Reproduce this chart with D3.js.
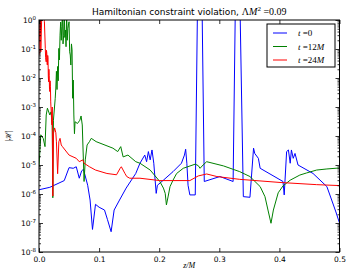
<!DOCTYPE html>
<html>
<head>
<meta charset="utf-8">
<script src="https://cdn.jsdelivr.net/npm/d3@7"></script>
<style>
  body { margin: 0; background: #fff; }
  text { font-family: "DejaVu Sans", sans-serif; }
  .math { font-family: "Liberation Serif", serif; font-style: italic; }
  .rm { font-style: normal; }
</style>
</head>
<body>
<div id="vis"></div>
<script>
// data: z/M positions and |H| values per time slice
const zBlue = [0.000, 0.018, 0.042, 0.050, 0.057, 0.062, 0.067, 0.071, 0.074, 0.081, 0.085, 0.089, 0.094, 0.100,
  0.109, 0.114, 0.120, 0.125, 0.134, 0.145, 0.161, 0.168, 0.176, 0.179, 0.182, 0.185, 0.188, 0.191, 0.195, 0.197,
  0.207, 0.223, 0.237, 0.242, 0.244, 0.246, 0.248, 0.251, 0.260, 0.264, 0.271, 0.275, 0.301, 0.323, 0.327, 0.334,
  0.340, 0.351, 0.357, 0.359, 0.365, 0.368, 0.406, 0.408, 0.412, 0.415, 0.418, 0.420, 0.423, 0.426, 0.431, 0.456,
  0.479, 0.487, 0.494, 0.500];
const hBlue = [1.4e-6, 1.7e-6, 2.9e-6, 8.1e-6, 7.7e-6, 8.7e-6, 3.5e-6, 6.3e-6, 7.1e-6, 2.0e-6, 6.2e-7, 6.0e-8, 4.4e-7, 3.5e-7,
  2.8e-7, 1.3e-7, 5.0e-8, 2.8e-7, 6.2e-7, 1.6e-6, 5.1e-6, 1.15e-5, 2.2e-5, 1.3e-5, 2.9e-5, 1.5e-5, 3.3e-5, 1.15e-5, 1.05e-6, 2.0e-6,
  3.0e-6, 5.9e-6, 1.15e-5, 2.2e-5, 3.5e-5, 1.15e-5, 2.0e-6, 9.3e-7, 9.3e-7, 10, 10, 2.7e-6, 4.0e-6, 2.7e-6, 10, 10,
  8.1e-7, 7.7e-7, 3.8e-5, 2.5e-5, 1.7e-5, 7.7e-6, 2.7e-6, 9.3e-7, 2.9e-5, 3.3e-5, 1.15e-5, 3.3e-5, 1.7e-5, 2.5e-5, 1.0e-5, 5.1e-6,
  1.8e-6, 6.2e-7, 2.4e-7, 1.0e-7];

const zGreen = [0.000, 0.003, 0.007, 0.010, 0.012, 0.014, 0.018, 0.020, 0.022, 0.023, 0.024, 0.027, 0.028, 0.029, 0.030,
  0.031, 0.032, 0.033, 0.034, 0.035, 0.036, 0.037, 0.038, 0.039, 0.040, 0.041, 0.042, 0.043, 0.044, 0.045, 0.046,
  0.047, 0.048, 0.049, 0.050, 0.051, 0.052, 0.053, 0.054, 0.055, 0.056, 0.057, 0.058, 0.059, 0.060, 0.064, 0.068,
  0.070, 0.072, 0.075, 0.077, 0.080, 0.084, 0.087, 0.095, 0.123, 0.131, 0.136, 0.140, 0.148, 0.161, 0.168, 0.185,
  0.201, 0.207, 0.210, 0.212, 0.215, 0.218, 0.223, 0.229, 0.240, 0.260, 0.265, 0.268, 0.273, 0.279, 0.307, 0.334,
  0.351, 0.368, 0.376, 0.381, 0.386, 0.390, 0.398, 0.406, 0.418, 0.434, 0.445, 0.462, 0.479, 0.500];
const hGreen = [8.7e-6, 1.1e-4, 8.3e-5, 4.3e-5, 5.3e-4, 9.1e-4, 5.3e-4, 6.8e-4, 2.4e-4, 7.4e-7, 3.5e-4, 2.0e-3, 4.5e-3, 1.7e-2, 4.0e-3,
  2.5e-2, 8.0e-3, 0.105, 0.042, 0.3, 0.85, 0.2, 0.6, 1.5, 0.15, 0.3, 2, 0.25, 0.45, 0.12, 1.8,
  0.2, 0.5, 0.67, 0.87, 0.08, 0.062, 0.028, 0.15, 0.093, 2.0e-3, 8.5e-3, 5.3e-4, 1.2e-4, 3.1e-4, 2.7e-4, 3.5e-4,
  4.9e-4, 2.4e-4, 2.7e-6, 1.5e-5, 4.9e-5, 6.4e-5, 8.3e-5, 6.4e-5, 3.8e-5, 2.9e-5, 4.3e-5, 1.9e-5, 2.2e-5, 1.3e-5, 1.15e-5, 6.7e-6,
  2.7e-6, 1.6e-6, 1.05e-6, 4.2e-7, 8.5e-7, 1.8e-6, 3.0e-6, 5.1e-6, 7.7e-6, 1.07e-5, 9.5e-6, 7.7e-6, 1.0e-5, 1.3e-5, 9.3e-6, 5.9e-6,
  4.0e-6, 1.8e-6, 8.1e-7, 2.8e-7, 9.8e-8, 2.8e-7, 1.1e-6, 1.9e-6, 3.0e-6, 4.5e-6, 5.3e-6, 6.7e-6, 7.3e-6, 7.9e-6];

const zRed = [0.000, 0.002, 0.003, 0.005, 0.007, 0.009, 0.0105, 0.011, 0.012, 0.0125, 0.013, 0.0135, 0.014, 0.0145,
  0.015, 0.0155, 0.016, 0.0165, 0.017, 0.0175, 0.018, 0.0185, 0.019, 0.0195, 0.020, 0.021, 0.0216, 0.022, 0.023,
  0.024, 0.026, 0.028, 0.029, 0.031, 0.033, 0.035, 0.037, 0.039, 0.050, 0.062, 0.067, 0.073, 0.075, 0.084, 0.094,
  0.113, 0.129, 0.135, 0.137, 0.143, 0.146, 0.151, 0.168, 0.201, 0.251, 0.265, 0.279, 0.296, 0.334, 0.401, 0.462, 0.500];
const hRed = [0.063, 3, 0.08, 3, 2, 0.87, 0.105, 0.05, 0.036, 0.09, 0.07, 0.03, 0.028, 0.06,
  0.05, 0.011, 7.4e-3, 0.02, 0.012, 4e-3, 3.4e-3, 8e-3, 5e-3, 1.5e-3, 9.1e-4, 4.7e-4, 2.4e-4, 1e-3, 8.5e-7,
  1.2e-4, 1.9e-4, 1.3e-4, 6.3e-5, 5e-6, 6.3e-5, 8.3e-5, 4.9e-5, 4.3e-5, 2.2e-5, 1.7e-5, 1.3e-5, 1.5e-5, 1.15e-5, 8.7e-6, 6.7e-6,
  5.1e-6, 4.6e-6, 7.7e-6, 8.7e-6, 5.1e-6, 4.0e-6, 3.5e-6, 3.5e-6, 2.9e-6, 2.9e-6, 4.2e-6, 4.9e-6, 4.0e-6, 3.2e-6, 2.5e-6, 2.1e-6, 1.95e-6];

const seriesLabels = ["0", "12", "24"];
const seriesColors = ["#0000ff", "#008000", "#ff0000"];
const xTicks = [0.0, 0.1, 0.2, 0.3, 0.4, 0.5];
const yExponents = [0, -1, -2, -3, -4, -5, -6, -7, -8];

const FRAME_WIDTH = 347;
const FRAME_HEIGHT = 272;
const MARGINS = {left: 39, right: 7.5, top: 20, bottom: 20};
const VIS_WIDTH = FRAME_WIDTH - MARGINS.left - MARGINS.right;
const VIS_HEIGHT = FRAME_HEIGHT - MARGINS.top - MARGINS.bottom;

const svg = d3.select("#vis").append("svg")
  .attr("width", FRAME_WIDTH)
  .attr("height", FRAME_HEIGHT);

const X_SCALE = d3.scaleLinear().domain([0, 0.5]).range([0, VIS_WIDTH]);
const Y_SCALE = d3.scaleLog().domain([1e-8, 1]).range([VIS_HEIGHT, 0]);

const g = svg.append("g")
  .attr("transform", "translate(" + MARGINS.left + "," + MARGINS.top + ")");

g.append("clipPath").attr("id", "clip")
  .append("rect").attr("width", VIS_WIDTH).attr("height", VIS_HEIGHT);

// lines
const series = [
  zBlue.map((z, i) => [z, hBlue[i]]),
  zGreen.map((z, i) => [z, hGreen[i]]),
  zRed.map((z, i) => [z, hRed[i]])
];
const line = d3.line().x(d => X_SCALE(d[0])).y(d => Y_SCALE(d[1]));

g.append("g").attr("clip-path", "url(#clip)")
  .selectAll("path")
  .data(series)
  .enter()
  .append("path")
    .attr("d", line)
    .attr("fill", "none")
    .attr("stroke", (d, i) => seriesColors[i])
    .attr("stroke-width", 1);

// minor log ticks
const minorTicks = [];
yExponents.slice(0, -1).forEach(e => {
  for (let k = 2; k < 10; k++) minorTicks.push(k * Math.pow(10, e - 1));
});
const majorTicks = yExponents.map(e => Math.pow(10, e));

function styleAxis(sel) {
  sel.select(".domain").remove();
  sel.selectAll("line").attr("stroke", "#000").attr("stroke-width", 0.8);
}

// x axes (bottom with labels, top without)
g.append("g")
  .attr("transform", "translate(0," + VIS_HEIGHT + ")")
  .call(d3.axisBottom(X_SCALE).tickValues(xTicks).tickSizeInner(-4).tickSizeOuter(0)
    .tickPadding(5).tickFormat(d3.format(".1f")))
  .call(styleAxis)
  .selectAll("text").attr("font-size", "7.5px").attr("fill", "#000")
    .attr("font-family", "DejaVu Sans");

g.append("g")
  .call(d3.axisTop(X_SCALE).tickValues(xTicks).tickSizeInner(-4).tickSizeOuter(0).tickFormat(""))
  .call(styleAxis);

// y axes, left and right
g.append("g")
  .call(d3.axisLeft(Y_SCALE).tickValues(majorTicks).tickSizeInner(-4).tickSizeOuter(0).tickFormat(""))
  .call(styleAxis);
g.append("g")
  .call(d3.axisLeft(Y_SCALE).tickValues(minorTicks).tickSizeInner(-2).tickSizeOuter(0).tickFormat(""))
  .call(styleAxis);
g.append("g")
  .attr("transform", "translate(" + VIS_WIDTH + ",0)")
  .call(d3.axisRight(Y_SCALE).tickValues(majorTicks).tickSizeInner(-4).tickSizeOuter(0).tickFormat(""))
  .call(styleAxis);
g.append("g")
  .attr("transform", "translate(" + VIS_WIDTH + ",0)")
  .call(d3.axisRight(Y_SCALE).tickValues(minorTicks).tickSizeInner(-2).tickSizeOuter(0).tickFormat(""))
  .call(styleAxis);

// y tick labels as 10^n
const yLab = g.append("g").selectAll("text")
  .data(yExponents)
  .enter()
  .append("text")
    .attr("x", -3)
    .attr("y", d => Y_SCALE(Math.pow(10, d)) + 3)
    .attr("text-anchor", "end")
    .attr("font-size", "7.5px");
yLab.append("tspan").text("10");
yLab.append("tspan").attr("dy", -3.5).attr("font-size", "5.5px")
  .text(d => d === 0 ? "0" : "-" + Math.abs(d));

// frame
g.append("rect")
  .attr("width", VIS_WIDTH).attr("height", VIS_HEIGHT)
  .attr("fill", "none").attr("stroke", "#000").attr("stroke-width", 1);

// title
const title = svg.append("text")
  .attr("x", MARGINS.left + VIS_WIDTH / 2)
  .attr("y", 14.5)
  .attr("text-anchor", "middle")
  .attr("font-size", "9px");
title.append("tspan").text("Hamiltonian constraint violation, ");
title.append("tspan").attr("class", "math rm").attr("font-size", "10px").text("Λ");
title.append("tspan").attr("class", "math").attr("font-size", "10px").text("M");
title.append("tspan").attr("class", "math rm").attr("font-size", "7px").attr("dy", -4).text("2");
title.append("tspan").attr("class", "math rm").attr("font-size", "10px").attr("dy", 4).text(" =0.09");

// axis labels
svg.append("text")
  .attr("class", "math")
  .attr("x", MARGINS.left + VIS_WIDTH / 2)
  .attr("y", 268)
  .attr("text-anchor", "middle")
  .attr("font-size", "8px")
  .text("z/M");

svg.append("text")
  .attr("class", "math rm")
  .attr("transform", "translate(11," + (MARGINS.top + VIS_HEIGHT / 2) + ") rotate(-90)")
  .attr("text-anchor", "middle")
  .attr("font-size", "8px")
  .text("|\u210B|");

// legend
const legend = svg.append("g").attr("transform", "translate(267,24)");
legend.append("rect")
  .attr("width", 68).attr("height", 43)
  .attr("fill", "#fff").attr("stroke", "#000").attr("stroke-width", 1);
const entry = legend.selectAll(".entry")
  .data(seriesLabels)
  .enter()
  .append("g")
    .attr("transform", (d, i) => "translate(0," + (9 + i * 13.5) + ")");
entry.append("line")
  .attr("x1", 6).attr("x2", 20)
  .attr("stroke", (d, i) => seriesColors[i]).attr("stroke-width", 1);
const lt = entry.append("text")
  .attr("class", "math")
  .attr("x", 31).attr("y", 3)
  .attr("font-size", "9px");
lt.append("tspan").text("t");
lt.append("tspan").attr("class", "rm").text(d => " =" + d);
lt.append("tspan").text(d => d === "0" ? "" : "M");
</script>
</body>
</html>
